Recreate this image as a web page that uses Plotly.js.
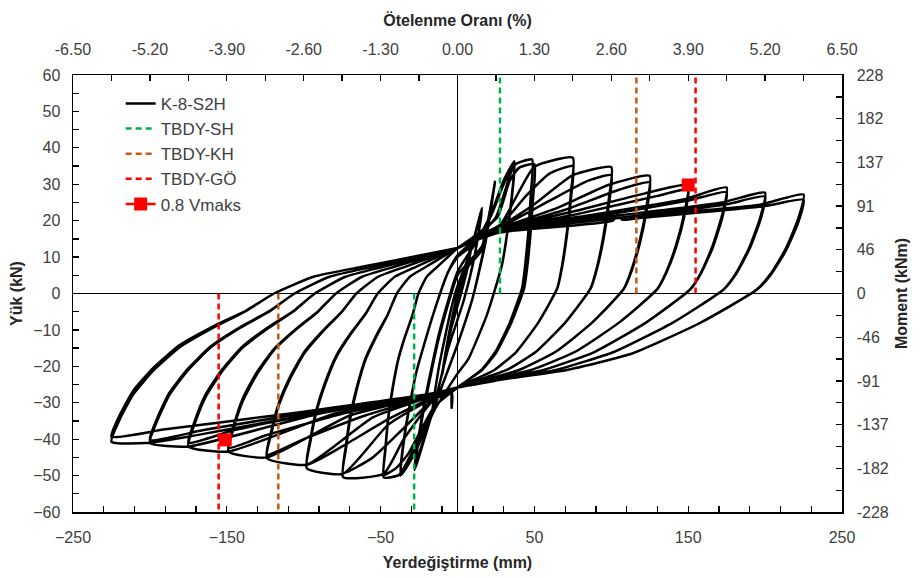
<!DOCTYPE html>
<html>
<head>
<meta charset="utf-8">
<script src="https://cdn.plot.ly/plotly-3.0.1.min.js"></script>
<style>html,body{margin:0;padding:0;background:#fff;}#chart{width:922px;height:578px;}</style>
</head>
<body>
<div id="chart"></div>
<script>
// ---- hysteresis data (displacement mm, load kN) ----
const startX = [0, 2.5, 5, 2, -1, -5, -2, 0, 2.5, 5, 2, -1, -5, -2, 0];
const startY = [0, 4, 7, 1.5, -2.5, -11, -4, 0, 4, 7.5, 1.5, -2.5, -11.5, -4, 0];
const c10X = [5, 10, 6, 1, -5, -10, -6, -1, 5, 10, 6, 1, -5, -10, -6, 0];
const c10Y = [7, 15, 6, -2, -11, -22, -12, -2, 6.5, 15.5, 6, -2, -11, -22.5, -12, -1];
const c16X = [8, 16, 11, 4, -6, -17, -12, -4, 0, 8, 16, 11, 4, -6, -17, -12, -4, 0];
const c16Y = [11, 23, 10, -2, -15, -34, -20, -4, 2, 11, 23.5, 10, -2, -15, -34, -20, -4, 2];
const c25X = [8, 16, 24.4, 18, 10, 0, -15, -28, -22, -12, 0, 8, 16, 24, 18, 10, 0, -15, -28, -22, -12, 0];
const c25Y = [8, 12, 30.7, 14, -1, -14, -31, -48.5, -32, -12, 5, 9, 13, 29.5, 13.5, -1, -14, -31, -47.5, -31, -11, 6];
const c37X = [12, 22, 30, 37, 34, 29, 19, 7, 0, -15, -28, -37, -34, -27, -16, -6, 0,
              12, 22, 30, 37, 34, 29, 19, 7, 0, -15, -28, -37, -34, -27, -16, -6, 0];
const c37Y = [14, 22, 31, 36.3, 22, 8, -6, -18, -22, -32, -44, -50, -38, -22, -6, 6, 10,
              14, 21.5, 30, 35.5, 21.5, 8, -6, -18, -22, -32, -43.5, -49.3, -37.5, -22, -6, 6, 10.5];
const c50aX = [12, 25, 33, 37, 48.5, 47.7, 46, 43.9, 42, 34, 24.7, 15.5, 6, 0, -15, -30, -38, -48, -46.8, -45, -42.2, -38.5, -33.9, -29.2, -25.4, -20, -13, -6.1, 0];
const c50aY = [15, 21, 31, 35.3, 36.8, 27.6, 16.6, 7.4, 1.5, -8, -16, -21, -24, -25.8, -31, -44, -49.8, -50.5, -42.7, -34.3, -26.3, -18.2, -11.6, -5.9, 0, 4.6, 7.4, 10.1, 12.5];
const c50bX = [12, 26, 34, 40, 50, 49.2, 47.4, 45.3, 43.3, 35, 25.5, 16, 6, 0, -15, -32, -40, -48, -46.8, -45, -42.2, -38.5, -33.9, -29.2, -25.4, -20, -13, -6.1, 0];
const c50bY = [16, 21, 31, 34.5, 35.5, 26.6, 16, 7.1, 1.4, -8, -16, -21, -24, -25.8, -31, -44, -48, -49.8, -42.1, -33.9, -25.9, -17.9, -11.5, -5.8, 0, 4.6, 7.4, 10.1, 12.5];
const c75aX = [12, 28, 40, 50, 75, 73.8, 71.1, 67.9, 64.9, 52.5, 38.3, 24, 9, 0, -3.5, -3.8, -3.6, -15, -35, -48, -74.4, -72.5, -69.7, -65.4, -59.7, -52.5, -45.3, -39.4, -31, -20.2, -9.5, 0];
const c75aY = [15.5, 19, 28, 34.8, 37.3, 28, 16.8, 7.5, 1.5, -8, -16, -21, -24, -25.8, -26.5, -31.4, -27.5, -29, -40, -49.5, -50.4, -42.6, -34.3, -26.2, -18.1, -11.6, -5.8, 0, 4.6, 7.4, 10.1, 12.5];
const c75bX = [12, 28, 45, 60, 75, 73.8, 71.1, 67.9, 64.9, 52.5, 38.3, 24, 9, 0, -15, -35, -55, -74.4, -72.5, -69.7, -65.4, -59.7, -52.5, -45.3, -39.4, -31, -20.2, -9.5, 0];
const c75bY = [15.5, 18.8, 27, 33, 35, 26.3, 15.8, 7, 1.4, -8, -16, -21, -24, -25.8, -28.8, -37, -45, -49.3, -41.7, -33.5, -25.6, -17.7, -11.3, -5.7, 0, 4.6, 7.4, 10.1, 12.5];
const c100aX = [12, 28, 50, 75, 100, 98.4, 94.8, 90.5, 86.5, 70, 51, 32, 12, 0, -15, -45, -74.4, -98, -95.6, -91.8, -86.1, -78.6, -69.2, -59.7, -51.9, -40.8, -26.7, -12.5, 0];
const c100aY = [15.5, 18.5, 24.5, 32.5, 34.7, 26, 15.6, 6.9, 1.4, -8, -16, -21, -24, -25.8, -28.5, -36, -49.5, -48, -40.6, -32.6, -25, -17.3, -11, -5.6, 0, 4.6, 7.4, 10.1, 12.5];
const c100bX = [12, 28, 60, 85, 100, 98.4, 94.8, 90.5, 86.5, 70, 51, 32, 12, 0, -15, -45, -75, -98, -95.6, -91.8, -86.1, -78.6, -69.2, -59.7, -51.9, -40.8, -26.7, -12.5, 0];
const c100bY = [15.3, 18.2, 25.5, 31, 32.5, 24.4, 14.6, 6.5, 1.3, -8, -16, -21, -24, -25.8, -28.3, -34.5, -42, -47, -39.8, -32, -24.4, -16.9, -10.8, -5.5, 0, 4.6, 7.4, 10.1, 12.5];
const c125aX = [12, 28, 65, 98, 125, 123, 118.5, 113.1, 108.1, 87.5, 63.8, 40, 15, 0, -15, -55, -98, -124, -120.9, -116.2, -109, -99.4, -87.5, -75.5, -65.7, -51.6, -33.7, -15.9, 0];
const c125aY = [15.3, 18, 23.5, 29.8, 32.3, 24.2, 14.5, 6.5, 1.3, -8, -16, -21, -24, -25.8, -28, -34, -47, -45.2, -38.2, -30.7, -23.5, -16.3, -10.4, -5.2, 0, 4.6, 7.4, 10.1, 12.5];
const c125bX = [12, 28, 70, 105, 125, 123, 118.5, 113.1, 108.1, 87.5, 63.8, 40, 15, 0, -15, -60, -100, -124, -120.9, -116.2, -109, -99.4, -87.5, -75.5, -65.7, -51.6, -33.7, -15.9, 0];
const c125bY = [15.2, 17.8, 23, 28.5, 30.5, 22.9, 13.7, 6.1, 1.2, -8, -16, -21, -24, -25.8, -27.8, -33.5, -40, -44.3, -37.5, -30.1, -23, -15.9, -10.2, -5.1, 0, 4.6, 7.4, 10.1, 12.5];
const c150aX = [12, 28, 75, 122, 150, 147.6, 142.2, 135.8, 129.8, 105, 76.5, 48, 18, 0, -15, -70, -124, -149, -145.3, -139.6, -131, -119.5, -105.2, -90.7, -79, -62, -40.5, -19.1, 0];
const c150aY = [15.2, 17.8, 22.5, 27.5, 29.8, 22.4, 13.4, 6, 1.2, -8, -16, -21, -24, -25.8, -27.8, -33.5, -45, -43.4, -36.7, -29.5, -22.6, -15.6, -10, -5, 0, 4.6, 7.4, 10.1, 12.5];
const c150bX = [12, 28, 80, 130, 150, 147.6, 142.2, 135.8, 129.8, 105, 76.5, 48, 18, 0, -15, -75, -125, -149, -145.3, -139.6, -131, -119.5, -105.2, -90.7, -79, -62, -40.5, -19.1, 0];
const c150bY = [15, 17.5, 22, 26.8, 28.5, 21.4, 12.8, 5.7, 1.1, -8, -16, -21, -24, -25.8, -27.6, -33, -39, -42.4, -35.9, -28.8, -22, -15.3, -9.8, -4.9, 0, 4.6, 7.4, 10.1, 12.5];
const c175aX = [12, 28, 90, 147, 175, 172.2, 165.9, 158.4, 151.4, 122.5, 89.3, 56, 21, 0, -15, -80, -149, -175, -170.6, -164, -153.8, -140.4, -123.6, -106.6, -92.8, -72.8, -47.6, -22.4, 0];
const c175aY = [15, 17.5, 21.8, 25.8, 29.1, 21.8, 13.1, 5.8, 1.2, -8, -16, -21, -24, -25.8, -27.6, -33, -43.4, -42, -35.5, -28.6, -21.8, -15.1, -9.7, -4.9, 0, 4.6, 7.4, 10.1, 12.5];
const c175bX = [12, 28, 95, 150, 175, 172.2, 165.9, 158.4, 151.4, 122.5, 89.3, 56, 21, 0, -15, -85, -145, -175, -170.6, -164, -153.8, -140.4, -123.6, -106.6, -92.8, -72.8, -47.6, -22.4, 0];
const c175bY = [15, 17.3, 21.5, 25.5, 27.8, 20.9, 12.5, 5.6, 1.1, -8, -16, -21, -24, -25.8, -27.5, -32.5, -37.5, -41, -34.7, -27.9, -21.3, -14.8, -9.4, -4.8, 0, 4.6, 7.4, 10.1, 12.5];
const c200aX = [12, 28, 100, 172, 200, 196.8, 189.6, 181, 173, 140, 102, 64, 24, 0, -15, -90, -175, -200, -195, -187.4, -175.8, -160.4, -141.2, -121.8, -106, -83.2, -54.4, -25.6, 0];
const c200aY = [15, 17.3, 21.2, 25, 27.7, 20.8, 12.5, 5.5, 1.1, -8, -16, -21, -24, -25.8, -27.5, -33, -42, -41, -34.7, -27.9, -21.3, -14.8, -9.4, -4.8, 0, 4.6, 7.4, 10.1, 12.5];
const c200bX = [12, 28, 110, 175, 200, 196.8, 189.6, 181, 173, 140, 102, 64, 24, 0, -15, -95, -165, -200, -195, -187.4, -175.8, -160.4, -141.2, -121.8, -106, -83.2, -54.4, -25.6, 0];
const c200bY = [14.8, 17, 21, 24.5, 26.6, 20, 12, 5.3, 1.1, -8, -16, -21, -24, -25.8, -27.4, -32.5, -37.5, -40.2, -34, -27.3, -20.9, -14.5, -9.2, -4.7, 0, 4.6, 7.4, 10.1, 12.5];
const c225aX = [12, 28, 110, 196.7, 225, 221.4, 213.3, 203.6, 194.6, 157.6, 114, 71, 27, 0, -15, -100, -200, -225, -219.4, -210.8, -197.8, -180.4, -158.8, -137.1, -119.3, -93.6, -61.2, -28.8, 0];
const c225aY = [14.8, 17, 21, 24.4, 27.2, 20.4, 12.2, 5.4, 1.1, -8.1, -16.4, -21, -23.7, -25.8, -27.4, -33.5, -41, -40.7, -34.4, -27.7, -21.2, -14.7, -9.4, -4.7, 0, 4.6, 7.4, 10.1, 12.5];
const c225bX = [12, 28, 101, 104, 107, 120, 200, 225, 221.4, 213.3, 203.6, 194.6, 157.6, 114, 71, 27, 0, -15, -110, -190, -225, -219.4, -210.8, -197.8, -180.4, -158.8, -137.1, -119.3, -93.6, -61.2, -28.8, 0];
const c225bY = [14.6, 16.8, 20, 21.6, 20.3, 20.8, 24, 25.7, 19.3, 11.6, 5.1, 1, -8.1, -16.4, -21, -23.7, -25.8, -27.3, -33, -37.3, -39.3, -33.2, -26.7, -20.4, -14.1, -9, -4.6, 0, 4.6, 7.4, 10.1, 12.5];

// performance limits (mm) and 0.8 Vmaks points
const limitSH = [27.6, -28.2];
const limitKH = [116.3, -116.5];
const limitGO = [154.8, -155.3];
const vmaksX = [150, -151];
const vmaksY = [29.8, -40.2];

// axis tick labels
const xLabelVals = [-250, -150, -50, 50, 150, 250];
const driftVals = [-6.5, -5.2, -3.9, -2.6, -1.3, 0, 1.3, 2.6, 3.9, 5.2, 6.5];
const driftText = ['-6.50', '-5.20', '-3.90', '-2.60', '-1.30', '0.00', '1.30', '2.60', '3.90', '5.20', '6.50'];
const momentVals = [-228, -182.4, -136.8, -91.2, -45.6, 0, 45.6, 91.2, 136.8, 182.4, 228];
const momentText = ['-228', '-182', '-137', '-91', '-46', '0', '46', '91', '137', '182', '228'];

const loopX = [].concat(startX, c10X, c16X, c25X, c37X, c50aX, c50bX, c75aX, c75bX, c100aX, c100bX,
  c125aX, c125bX, c150aX, c150bX, c175aX, c175bX, c200aX, c200bX, c225aX, c225bX);
const loopY = [].concat(startY, c10Y, c16Y, c25Y, c37Y, c50aY, c50bY, c75aY, c75bY, c100aY, c100bY,
  c125aY, c125bY, c150aY, c150bY, c175aY, c175bY, c200aY, c200bY, c225aY, c225bY);

const yTop = 60, yBot = -60;
function limitTrace(name, vals, color) {
  return {
    x: [vals[0], vals[0], null, vals[1], vals[1]],
    y: [0, yTop, null, 0, yBot],
    mode: 'lines', name: name, hoverinfo: 'skip',
    line: {color: color, width: 2.5, dash: '6px,4px'}
  };
}

const traces = [
  {x: loopX, y: loopY, mode: 'lines', name: 'K-8-S2H',
   line: {color: '#000', width: 2.5, shape: 'spline', smoothing: 0.5}},
  limitTrace('TBDY-SH', limitSH, '#00B050'),
  limitTrace('TBDY-KH', limitKH, '#C55A11'),
  limitTrace('TBDY-GÖ', limitGO, '#FF0000'),
  {x: [vmaksX[0], null, vmaksX[1]], y: [vmaksY[0], null, vmaksY[1]], mode: 'lines+markers',
   name: '0.8 Vmaks', connectgaps: false,
   line: {color: '#FF0000', width: 2.5}, marker: {symbol: 'square', size: 13, color: '#FF0000'}},
  // empty trace that only activates the secondary (drift / moment) axes
  {x: [], y: [], xaxis: 'x2', yaxis: 'y2', mode: 'lines', showlegend: false, hoverinfo: 'skip'}
];

const FONT = 'Liberation Sans, Arial, sans-serif';
const tickCol = '#404040';
const titleCol = '#262626';
const axBase = {
  showgrid: false, showline: true, linecolor: '#000', linewidth: 1.5,
  ticks: 'inside', ticklen: 6, tickwidth: 1.3, tickcolor: '#000',
  tickfont: {family: FONT, size: 16, color: tickCol}, zeroline: false
};
const minorBase = {ticks: 'inside', ticklen: 6, tickcolor: '#000', tickwidth: 1.3, showgrid: false};

const layout = {
  width: 922, height: 578,
  margin: {l: 73, r: 80, t: 75, b: 66},
  paper_bgcolor: '#fff', plot_bgcolor: '#fff',
  font: {family: FONT, color: tickCol},
  showlegend: true,
  legend: {x: 0.062, y: 0.975, xanchor: 'left', yanchor: 'top', bgcolor: 'rgba(0,0,0,0)',
           font: {family: FONT, size: 17, color: tickCol}, tracegroupgap: 0},
  xaxis: Object.assign({}, axBase, {
    range: [-250, 250], tickmode: 'array', tickvals: xLabelVals,
    zeroline: true, zerolinecolor: '#000', zerolinewidth: 1.5,
    minor: Object.assign({tickmode: 'linear', tick0: -250, dtick: 20}, minorBase),
    ticklabelstandoff: 10,
    title: {text: '<b>Yerdeğiştirme (mm)</b>', font: {family: FONT, size: 16, color: titleCol}, standoff: 12}
  }),
  yaxis: Object.assign({}, axBase, {
    range: [-60, 60], dtick: 10, tick0: 0,
    zeroline: true, zerolinecolor: '#000', zerolinewidth: 1.5,
    minor: Object.assign({tickmode: 'linear', tick0: 0, dtick: 5}, minorBase),
    ticklabelstandoff: 8,
    title: {text: '<b>Yük (kN)</b>', font: {family: FONT, size: 16, color: titleCol}, standoff: 6}
  }),
  xaxis2: Object.assign({}, axBase, {
    overlaying: 'x', side: 'top', anchor: 'y2', range: [-6.5, 6.5],
    tickmode: 'array', tickvals: driftVals, ticktext: driftText,
    minor: Object.assign({tickmode: 'linear', tick0: -6.5, dtick: 0.65}, minorBase),
    ticklabelstandoff: 12,
    title: {text: '<b>Ötelenme Oranı (%)</b>', font: {family: FONT, size: 16, color: titleCol}, standoff: 10}
  }),
  yaxis2: Object.assign({}, axBase, {
    overlaying: 'y', side: 'right', anchor: 'x2', range: [-228, 228],
    tickmode: 'array', tickvals: momentVals, ticktext: momentText,
    minor: Object.assign({tickmode: 'linear', tick0: -228, dtick: 22.8}, minorBase),
    ticklabelstandoff: 10,
    title: {text: '<b>Moment (kNm)</b>', font: {family: FONT, size: 16, color: titleCol}, standoff: 8}
  })
};

Plotly.newPlot('chart', traces, layout, {displayModeBar: false, staticPlot: true});
</script>
</body>
</html>
